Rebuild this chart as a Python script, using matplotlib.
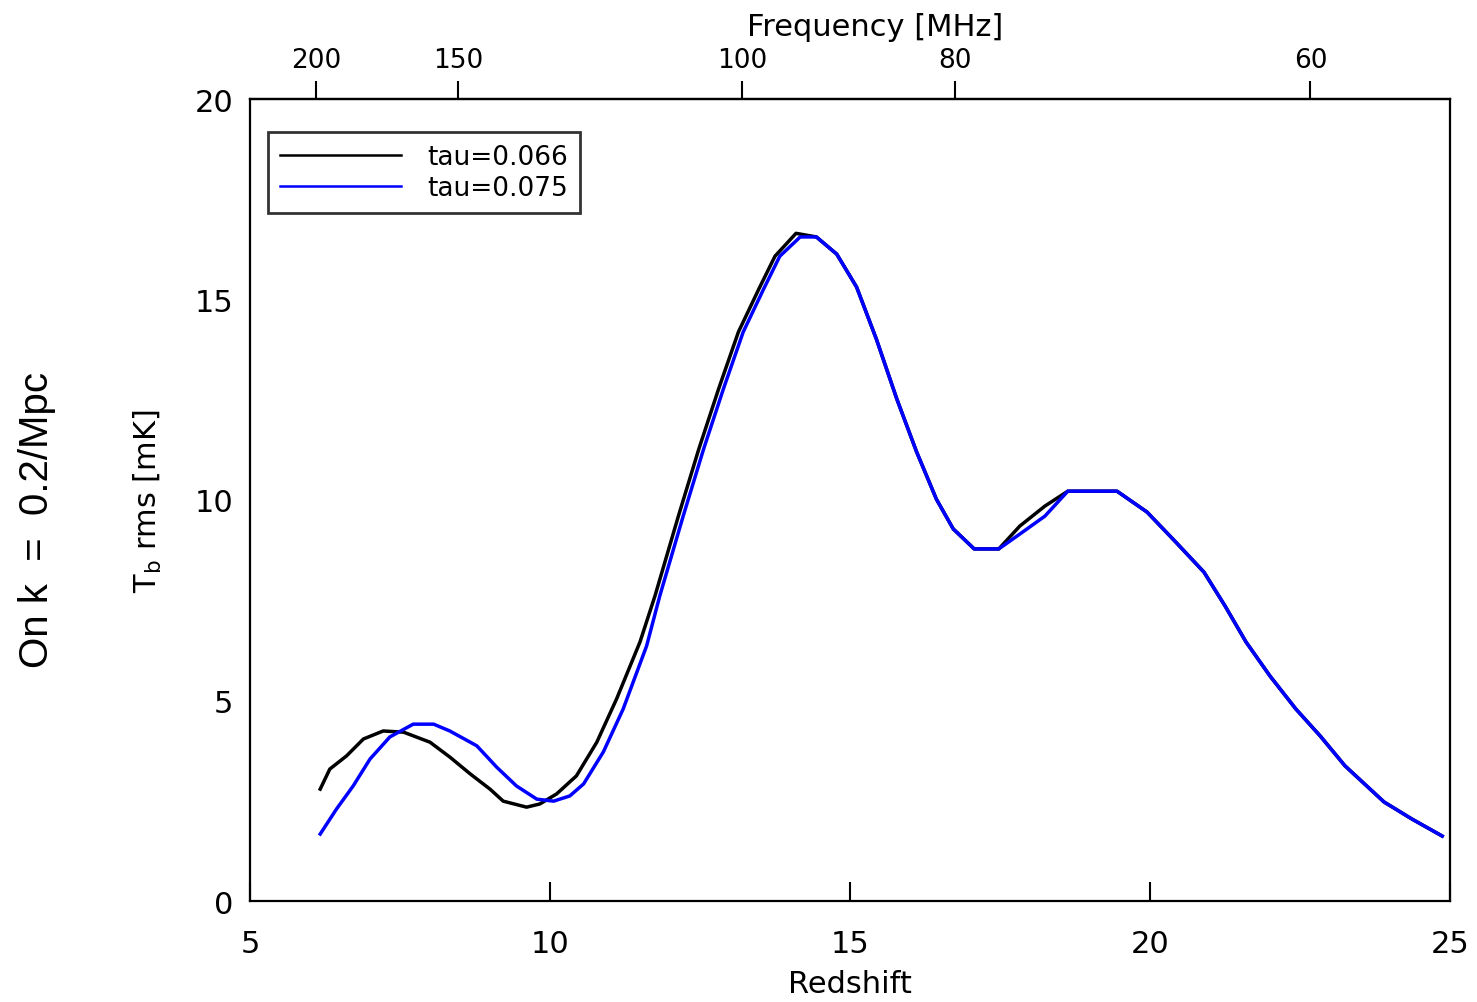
import matplotlib
matplotlib.use("Agg")
import matplotlib.pyplot as plt
import numpy as np

Z_BLUE = [6.17, 6.44, 6.72, 7.0, 7.33, 7.72, 8.06, 8.33, 8.78, 9.11, 9.44, 9.78,
          10.06, 10.33, 10.56, 10.89, 11.22, 11.61, 11.83, 12.22, 12.56, 12.89,
          13.22, 13.56, 13.83, 14.17, 14.44, 14.78, 15.11, 15.44, 15.78, 16.11,
          16.44, 16.72, 17.07, 17.48, 17.83, 18.25, 18.63, 19.45, 19.95, 20.43,
          20.9, 21.25, 21.6, 22.0, 22.43, 22.84, 23.25, 23.9, 24.37, 24.87]
T_BLUE = [1.67, 2.29, 2.87, 3.54, 4.09, 4.41, 4.41, 4.24, 3.87, 3.34, 2.87, 2.54,
          2.49, 2.62, 2.92, 3.72, 4.79, 6.36, 7.61, 9.60, 11.27, 12.77,
          14.19, 15.26, 16.08, 16.56, 16.56, 16.13, 15.31, 14.01, 12.52, 11.20,
          10.02, 9.28, 8.78, 8.78, 9.15, 9.60, 10.22, 10.22, 9.70, 8.95,
          8.20, 7.36, 6.46, 5.61, 4.79, 4.11, 3.37, 2.47, 2.04, 1.62]

Z_BLACK = [6.17, 6.33, 6.61, 6.89, 7.22, 7.56, 8.0, 8.33, 8.67, 9.0, 9.22, 9.61,
           9.83, 10.11, 10.44, 10.78, 11.11, 11.5, 11.75, 12.14, 12.48, 12.81,
           13.14, 13.48, 13.75, 14.1, 14.44, 14.78, 15.11, 15.44, 15.78, 16.11,
           16.44, 16.72, 17.07, 17.48, 17.83, 18.25, 18.63, 19.45, 19.95, 20.43,
           20.9, 21.25, 21.6, 22.0, 22.43, 22.84, 23.25, 23.9, 24.37, 24.87]
T_BLACK = [2.79, 3.29, 3.62, 4.04, 4.24, 4.21, 3.96, 3.59, 3.17, 2.79, 2.49, 2.34,
           2.42, 2.67, 3.12, 3.96, 5.04, 6.46, 7.61, 9.60, 11.27, 12.77,
           14.19, 15.26, 16.08, 16.65, 16.56, 16.13, 15.31, 14.01, 12.52, 11.20,
           10.02, 9.28, 8.78, 8.78, 9.35, 9.85, 10.22, 10.22, 9.70, 8.95,
           8.20, 7.36, 6.46, 5.61, 4.79, 4.11, 3.37, 2.47, 2.04, 1.62]

LABELS = ["tau=0.066", "tau=0.075"]
FREQ_TICKS = [200, 150, 100, 80, 60]
NU21 = 1420.4


def z2f(z):
    z = np.asarray(z, dtype=float)
    return NU21 / (1.0 + z)


def f2z(f):
    f = np.asarray(f, dtype=float)
    f = np.where(f == 0, 1e-9, f)
    return NU21 / f - 1.0


fig = plt.figure(figsize=(14.77, 10.03), dpi=100)
ax = fig.add_axes([250 / 1477, 1 - 902 / 1003, 1200 / 1477, 802 / 1003])

ax.plot(Z_BLACK, T_BLACK, color="black", lw=2.5, label=LABELS[0])
ax.plot(Z_BLUE, T_BLUE, color="blue", lw=2.5, label=LABELS[1])

ax.set_xlim(5, 25)
ax.set_ylim(0, 20)
ax.set_xticks([5, 10, 15, 20, 25])
ax.set_yticks([0, 5, 10, 15, 20])
ax.tick_params(axis="x", direction="in", length=14, width=1.5, pad=20, labelsize=22)
ax.tick_params(axis="y", length=0, pad=12, labelsize=22)
for s in ax.spines.values():
    s.set_linewidth(1.6)

ax.set_xlabel("Redshift", fontsize=22, labelpad=8)
ax.set_ylabel(r"T$_\mathregular{b}$ rms [mK]", fontsize=22, labelpad=22)

top = ax.secondary_xaxis("top", functions=(z2f, f2z))
top.set_xticks(FREQ_TICKS)
top.tick_params(direction="out", length=13, width=1.5, pad=6, labelsize=19)
top.spines["top"].set_linewidth(1.6)
fig.text(875 / 1477, 1 - 27 / 1003, "Frequency [MHz]", fontsize=22,
         ha="center", va="center")

leg = ax.legend(loc="upper left", bbox_to_anchor=(0.015, 0.959), borderaxespad=0,
                fontsize=19, frameon=True, fancybox=False, handlelength=4.6,
                handletextpad=1.0, borderpad=0.45, labelspacing=0.2)
leg.get_frame().set_edgecolor("black")
leg.get_frame().set_linewidth(2.0)
for line in leg.get_lines():
    line.set_linewidth(1.8)

fig.text(37 / 1477, 1 - 520 / 1003, "On k  =  0.2/Mpc", rotation=90, fontsize=29,
         family="Liberation Sans", ha="center", va="center")

fig.savefig("out.png", dpi=100)
